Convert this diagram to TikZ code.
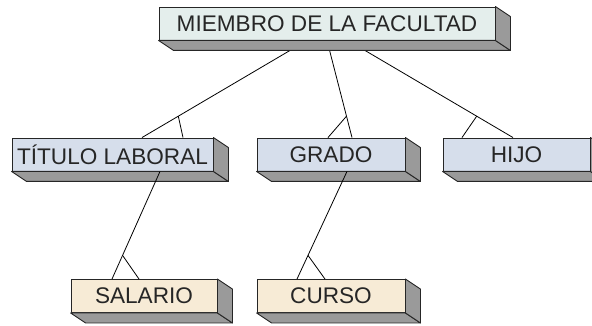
\documentclass[tikz,border=0pt]{standalone}
\usepackage{fontspec}
\setmainfont{Liberation Sans}
\usepackage{tikz}
\usetikzlibrary{positioning, calc, backgrounds}
\definecolor{topfill}{HTML}{E4EEEC}
\definecolor{midfill}{HTML}{D6DEEB}
\definecolor{lowfill}{HTML}{F7EBD6}
\definecolor{sidegray}{HTML}{9A9A9A}
\definecolor{inkgray}{HTML}{262626}
\tikzset{
    entity/.style={rectangle, draw=inkgray, line width=0.9pt, minimum height=33pt, inner sep=2pt, align=center, text=inkgray, font=\fontsize{22.6}{24}\selectfont},
    side/.style={draw=inkgray, line width=0.9pt, fill=sidegray, line join=round},
    link/.style={black, line width=0.8pt},
}
% extruded faces below and right of a box
\newcommand\slabsides[1]{
    \draw[side] (#1.south west) -- ++(15,10) -- ($(#1.south east)+(15,10)$) -- (#1.south east) -- cycle;
    \draw[side] (#1.north east) -- ++(15,10) -- ($(#1.south east)+(15,10)$) -- (#1.south east) -- cycle;
}
% line with a fork near the child
\newcommand\crowlink[3]{
    \draw[link] (#1) -- (#2);
    \draw[link] ($(#2)!0.22!(#1)$) -- (#3);
}

\begin{document}
\begin{tikzpicture}[x=1pt, y=-1pt]
    \useasboundingbox (0,0) rectangle (592,326);

    \node[entity, fill=topfill, minimum width=336pt] (miembro) at (327,23.5) {MIEMBRO DE LA FACULTAD};
    \node[entity, fill=midfill, minimum width=201pt] (titulo) at (112.5,154.5) {TÍTULO LABORAL};
    \node[entity, fill=midfill, minimum width=148pt] (grado) at (331,154.5) {GRADO};
    \node[entity, fill=midfill, minimum width=147pt] (hijo) at (516.5,154.5) {HIJO};
    \node[entity, fill=lowfill, minimum width=146pt] (salario) at (144,296) {SALARIO};
    \node[entity, fill=lowfill, minimum width=148pt] (curso) at (331,296) {CURSO};

    \foreach \b in {miembro, titulo, grado, hijo, salario, curso}
        \slabsides{\b};

    % end points on the boxes
    \coordinate (m1) at ($(miembro.south)+(-20,0)$);
    \coordinate (m2) at ($(miembro.south)+(0,0)$);
    \coordinate (m3) at ($(miembro.south)+(21,0)$);
    \coordinate (t1) at ($(titulo.north)+(29.5,0)$);
    \coordinate (t2) at ($(titulo.north)+(70.5,0)$);
    \coordinate (t3) at ($(titulo.south)+(47.5,0)$);
    \coordinate (g1) at ($(grado.north)+(21,0)$);
    \coordinate (g2) at ($(grado.north)+(-3,0)$);
    \coordinate (g3) at ($(grado.south)+(16,0)$);
    \coordinate (h1) at ($(hijo.north)+(-3.5,0)$);
    \coordinate (h2) at ($(hijo.north)+(-54.5,0)$);
    \coordinate (s1) at ($(salario.north)+(-32,0)$);
    \coordinate (s2) at ($(salario.north)+(-5,0)$);
    \coordinate (c1) at ($(curso.north)+(-34,0)$);
    \coordinate (c2) at ($(curso.north)+(-6,0)$);

    \begin{pgfonlayer}{background}
        \crowlink{m1}{t1}{t2}
        \crowlink{m2}{g1}{g2}
        \crowlink{m3}{h1}{h2}
    \end{pgfonlayer}
    \crowlink{t3}{s1}{s2}
    \crowlink{g3}{c1}{c2}
\end{tikzpicture}
\end{document}
